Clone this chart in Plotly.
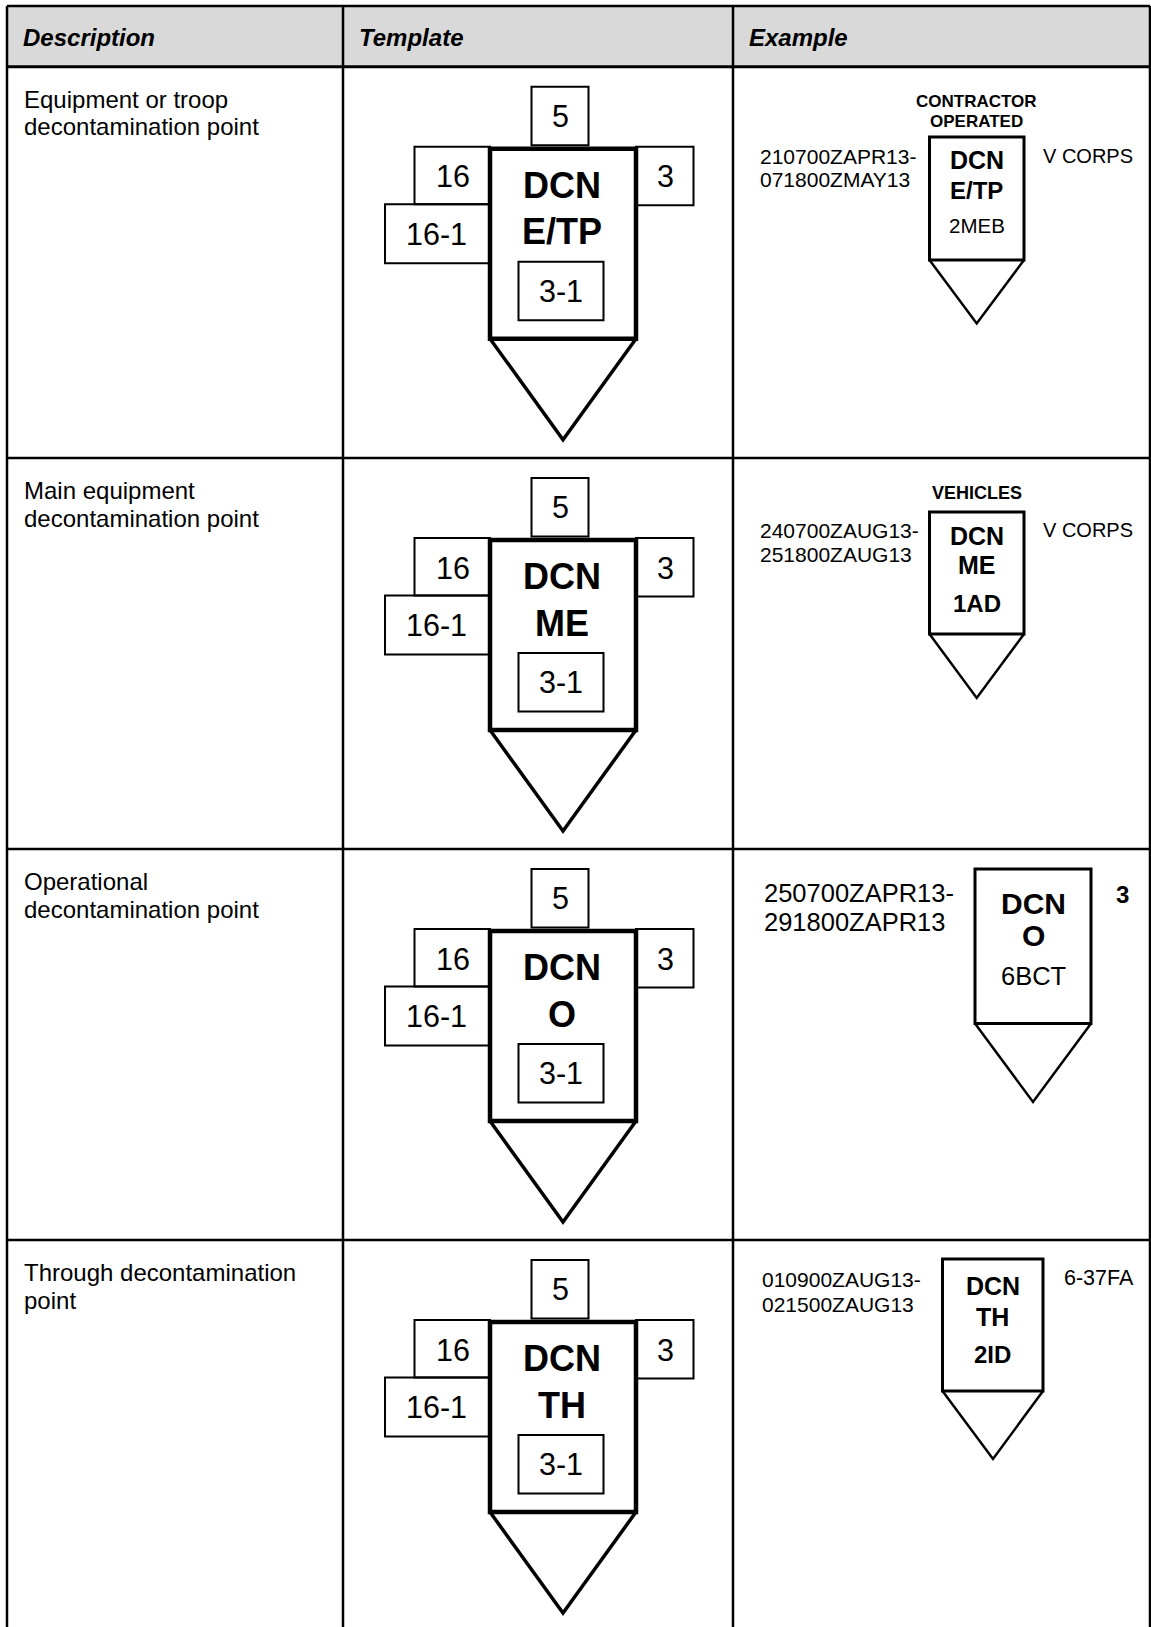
import plotly.graph_objects as go

FONT = "Liberation Sans, Arial, Helvetica, sans-serif"

# ---------------- content (text data) ----------------
headers = ["Description", "Template", "Example"]
descriptions = [
    ["Equipment or troop", "decontamination point"],
    ["Main equipment", "decontamination point"],
    ["Operational", "decontamination point"],
    ["Through decontamination", "point"],
]
template_main = "DCN"
template_codes = ["E/TP", "ME", "O", "TH"]
field_top = "5"
field_left = "16"
field_left_low = "16-1"
field_right = "3"
field_inner = "3-1"

example_above = [["CONTRACTOR", "OPERATED"], ["VEHICLES"], [], []]
example_dtg = [
    ["210700ZAPR13-", "071800ZMAY13"],
    ["240700ZAUG13-", "251800ZAUG13"],
    ["250700ZAPR13-", "291800ZAPR13"],
    ["010900ZAUG13-", "021500ZAUG13"],
]
example_right = ["V CORPS", "V CORPS", "3", "6-37FA"]
example_codes = ["E/TP", "ME", "O", "TH"]
example_inner = ["2MEB", "1AD", "6BCT", "2ID"]

# ---------------- layout geometry (pixels) ----------------
W, H = 1151, 1627
col_x = [7, 343, 733, 1150]
row_y = [6, 66.7, 458, 849, 1240, 1631]

# example symbol geometry per row
ex_geom = [
    dict(box=(929.5, 137, 1024, 260), apex=(976.7, 323.5), above_y=[101.7, 121.4],
         txt_y=[160, 190, 225], dtg_x=758, dtg_y=[156, 179], right=(1041, 156),
         sizes=dict(above=17, dcn=25, code=24, inner=20.5, dtg=21, right=20),
         inner_bold=False, right_bold=False),
    dict(box=(929.5, 512, 1024, 634), apex=(976.7, 698), above_y=[493],
         txt_y=[536, 565, 603], dtg_x=758, dtg_y=[530.5, 554], right=(1041, 529.5),
         sizes=dict(above=18, dcn=25, code=25, inner=24, dtg=21, right=20),
         inner_bold=True, right_bold=False),
    dict(box=(975, 869, 1091, 1023.5), apex=(1033, 1102), above_y=[],
         txt_y=[903, 935, 976], dtg_x=762, dtg_y=[892.5, 921.5], right=(1114, 894),
         sizes=dict(above=17, dcn=30, code=30, inner=25.5, dtg=25.5, right=24),
         inner_bold=False, right_bold=True),
    dict(box=(942.5, 1259, 1043, 1391), apex=(993, 1459), above_y=[],
         txt_y=[1286, 1317, 1354], dtg_x=760, dtg_y=[1279, 1304], right=(1062, 1278),
         sizes=dict(above=17, dcn=25, code=25, inner=24, dtg=21, right=21.5),
         inner_bold=True, right_bold=False),
]

shapes = []
annotations = []


def rect(x0, y0, x1, y1, w, fill=None):
    d = dict(type="rect", xref="x", yref="y", x0=x0, y0=y0, x1=x1, y1=y1,
             line=dict(color="black", width=w), layer="above")
    if fill:
        d["fillcolor"] = fill
    shapes.append(d)


def line(x0, y0, x1, y1, w):
    shapes.append(dict(type="line", xref="x", yref="y", x0=x0, y0=y0, x1=x1, y1=y1,
                       line=dict(color="black", width=w), layer="above"))


def path(pts, w):
    p = "M " + " L ".join(f"{x},{y}" for x, y in pts)
    shapes.append(dict(type="path", xref="x", yref="y", path=p,
                       line=dict(color="black", width=w), layer="above"))


def text(x, y, s, size, bold=False, italic=False, xanchor="center"):
    if italic:
        s = f"<i>{s}</i>"
    if bold:
        s = f"<b>{s}</b>"
    annotations.append(dict(x=x, y=y, xref="x", yref="y", text=s, showarrow=False,
                            xanchor=xanchor, yanchor="middle",
                            font=dict(family=FONT, size=size, color="black")))


# header background
shapes.append(dict(type="rect", xref="x", yref="y", x0=col_x[0], x1=col_x[-1],
                   y0=row_y[0], y1=row_y[1], fillcolor="#d9d9d9",
                   line=dict(width=0), layer="below"))

# table grid
for i, y in enumerate(row_y):
    line(col_x[0], y, col_x[-1], y, 3 if i == 1 else 2.5)
for x in col_x:
    line(x, row_y[0], x, row_y[-1], 2.5)

# header text
header_x = [21, 357, 747]
for hx, h in zip(header_x, headers):
    text(hx, 37, h, 24, bold=True, italic=True, xanchor="left")

# rows
for i in range(4):
    T = row_y[i + 1]

    # description
    for k, ln in enumerate(descriptions[i]):
        text(21.5, T + 32.5 + 27.5 * k, ln, 24, xanchor="left")

    # template symbol
    rect(531.5, T + 20, 588.5, T + 78.5, 2)            # field 5
    rect(414.5, T + 80, 490, T + 137.5, 2)             # field 16
    rect(385, T + 137.5, 490, T + 196.5, 2)            # field 16-1
    rect(636, T + 80, 693.5, T + 138.5, 2)             # field 3
    rect(518.5, T + 195, 603.5, T + 253.5, 2)          # field 3-1
    rect(490, T + 82, 636, T + 272, 4.5)               # main frame
    path([(490, T + 272), (563, T + 373), (636, T + 272)], 3.5)

    text(560, T + 49, field_top, 30.5)
    text(452.5, T + 109.5, field_left, 30.5)
    text(665, T + 109.5, field_right, 30.5)
    text(436.5, T + 167, field_left_low, 30.5)
    text(561, T + 224, field_inner, 30.5)
    text(562, T + 118.5, template_main, 36, bold=True)
    text(562, T + 165, template_codes[i], 36, bold=True)

    # example symbol
    g = ex_geom[i]
    bx0, by0, bx1, by1 = g["box"]
    ax, ay = g["apex"]
    cx = (bx0 + bx1) / 2
    rect(bx0, by0, bx1, by1, 3)
    path([(bx0, by1), (ax, ay), (bx1, by1)], 2.5)
    s = g["sizes"]
    for k, ln in enumerate(example_above[i]):
        text(cx, g["above_y"][k], ln, s["above"], bold=True)
    text(cx, g["txt_y"][0], template_main, s["dcn"], bold=True)
    text(cx, g["txt_y"][1], example_codes[i], s["code"], bold=True)
    text(cx, g["txt_y"][2], example_inner[i], s["inner"], bold=g["inner_bold"])
    for k, ln in enumerate(example_dtg[i]):
        text(g["dtg_x"], g["dtg_y"][k], ln, s["dtg"], xanchor="left")
    rx, ry = g["right"]
    text(rx, ry, example_right[i], s["right"], bold=g["right_bold"], xanchor="left")

fig = go.Figure()
fig.update_layout(
    width=W, height=H,
    margin=dict(l=0, r=0, t=0, b=0),
    paper_bgcolor="white", plot_bgcolor="white",
    xaxis=dict(range=[0, W], visible=False, fixedrange=True),
    yaxis=dict(range=[H, 0], visible=False, fixedrange=True),
    shapes=shapes, annotations=annotations,
    showlegend=False,
)

fig.write_html("out.html", config={"displayModeBar": False},
               post_script="document.body.style.margin='0';document.body.style.overflow='hidden';")
